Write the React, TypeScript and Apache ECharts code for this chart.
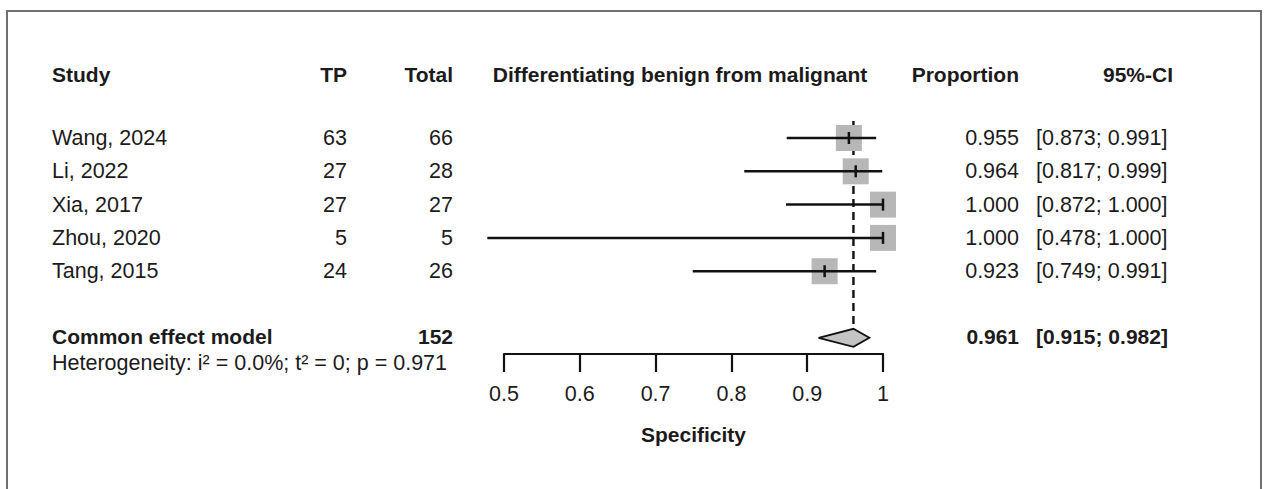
import React, { useEffect, useRef } from "react";
import * as echarts from "echarts";

const studies = ["Wang, 2024", "Li, 2022", "Xia, 2017", "Zhou, 2020", "Tang, 2015"];
const tp = [63, 27, 27, 5, 24];
const total = [66, 28, 27, 5, 26];
const proportion = [0.955, 0.964, 1.0, 1.0, 0.923];
const ciLower = [0.873, 0.817, 0.872, 0.478, 0.749];
const ciUpper = [0.991, 0.999, 1.0, 1.0, 0.991];
const pooledLabel = "Common effect model";
const pooledTotal = 152;
const pooled = 0.961;
const pooledLower = 0.915;
const pooledUpper = 0.982;
const heterogeneity = "Heterogeneity: i\u00b2 = 0.0%; t\u00b2 = 0; p = 0.971";
const headers = ["Study", "TP", "Total", "Differentiating benign from malignant", "Proportion", "95%-CI"];
const xTitle = "Specificity";

const FONT = '"Liberation Sans", Arial, sans-serif';
const TEXT = "#1c1a1b";
const REG = 21.5;
const BOLD = 21;

// column layout
const colStudy = { x: 52, align: "left" };
const colTP = { x: 347, align: "right" };
const colTotal = { x: 453, align: "right" };
const colLabel = { x: 680, align: "center" };
const colProp = { x: 1019, align: "right" };
const colCI = { x: 1036, align: "left" };
const colCIHead = { x: 1173, align: "right" };

const fmt3 = (v: number) => v.toFixed(3);

type Cell = { row: number; col: { x: number; align: string }; text: string; bold: boolean };

function buildCells(): Cell[] {
  const cells: Cell[] = [];
  const headerCols = [colStudy, colTP, colTotal, colLabel, colProp, colCIHead];
  headers.forEach((h, i) => cells.push({ row: -1.9, col: headerCols[i], text: h, bold: true }));
  studies.forEach((s, i) => {
    cells.push({ row: i, col: colStudy, text: s, bold: false });
    cells.push({ row: i, col: colTP, text: String(tp[i]), bold: false });
    cells.push({ row: i, col: colTotal, text: String(total[i]), bold: false });
    cells.push({ row: i, col: colProp, text: fmt3(proportion[i]), bold: false });
    cells.push({ row: i, col: colCI, text: `[${fmt3(ciLower[i])}; ${fmt3(ciUpper[i])}]`, bold: false });
  });
  const pr = studies.length + 1;
  cells.push({ row: pr - 0.05, col: colStudy, text: pooledLabel, bold: true });
  cells.push({ row: pr - 0.05, col: colTotal, text: String(pooledTotal), bold: true });
  cells.push({ row: pr - 0.05, col: colProp, text: fmt3(pooled), bold: true });
  cells.push({ row: pr - 0.05, col: colCI, text: `[${fmt3(pooledLower)}; ${fmt3(pooledUpper)}]`, bold: true });
  cells.push({ row: pr + 0.75, col: colStudy, text: heterogeneity, bold: false });
  return cells;
}

export default function App() {
  const ref = useRef<HTMLDivElement>(null);
  useEffect(() => {
    if (!ref.current) return;
    const chart = echarts.init(ref.current, undefined, { renderer: "svg" });
    const cells = buildCells();
    const pooledRow = studies.length + 1;

    const option: any = {
      animation: false,
      backgroundColor: "#ffffff",
      grid: { left: 504, right: 381, top: 38.1, bottom: 135 },
      xAxis: {
        type: "value",
        position: "bottom",
        min: 0.5,
        max: 1,
        interval: 0.1,
        splitLine: { show: false },
        axisLine: { show: true, onZero: false, lineStyle: { color: "#111", width: 2.2 } },
        axisTick: { show: true, length: 18, lineStyle: { color: "#111", width: 2.2 } },
        axisLabel: {
          fontSize: REG,
          color: TEXT,
          fontFamily: FONT,
          margin: 29,
          formatter: (v: number) => String(Math.round(v * 10) / 10),
        },
        name: xTitle,
        nameLocation: "middle",
        nameGap: 70,
        nameTextStyle: { fontSize: BOLD, fontWeight: "bold", color: TEXT, fontFamily: FONT },
      },
      yAxis: { type: "value", inverse: true, min: -3, max: 6.486, show: false },
      graphic: [
        {
          type: "rect",
          shape: { x: 7, y: 11, width: 1254, height: 520 },
          style: { fill: "none", stroke: "#707070", lineWidth: 2 },
          silent: true,
        },
      ],
      series: [
        {
          type: "custom",
          name: "ref",
          clip: false,
          data: [[pooled, 0, pooledRow]],
          renderItem: (_p: any, api: any) => {
            const x = api.coord([api.value(0), api.value(1)])[0];
            const y1 = api.coord([api.value(0), api.value(1)])[1] - 17;
            const y2 = api.coord([api.value(0), api.value(2)])[1] - 10;
            return {
              type: "line",
              shape: { x1: x, y1, x2: x, y2 },
              style: { stroke: "#111", lineWidth: 2.4, lineDash: [8, 5] },
            };
          },
        },
        {
          type: "custom",
          name: "studies",
          clip: false,
          data: studies.map((_, i) => [proportion[i], ciLower[i], ciUpper[i], i]),
          renderItem: (_p: any, api: any) => {
            const row = api.value(3);
            const [xe, y] = api.coord([api.value(0), row]);
            const xl = api.coord([api.value(1), row])[0];
            const xh = api.coord([api.value(2), row])[0];
            const s = 26;
            return {
              type: "group",
              children: [
                { type: "rect", shape: { x: xe - s / 2, y: y - s / 2, width: s, height: s }, style: { fill: "#b7b7b7" } },
                { type: "line", shape: { x1: xl, y1: y, x2: xh, y2: y }, style: { stroke: "#111", lineWidth: 2.5 } },
                { type: "line", shape: { x1: xe, y1: y - 6, x2: xe, y2: y + 6 }, style: { stroke: "#111", lineWidth: 2.5 } },
              ],
            };
          },
        },
        {
          type: "custom",
          name: "pooled",
          clip: false,
          data: [[pooled, pooledLower, pooledUpper, pooledRow]],
          renderItem: (_p: any, api: any) => {
            const row = api.value(3);
            const [xe, y] = api.coord([api.value(0), row]);
            const xl = api.coord([api.value(1), row])[0];
            const xh = api.coord([api.value(2), row])[0];
            const h = 9;
            return {
              type: "polygon",
              shape: { points: [[xl, y], [xe, y - h], [xh, y], [xe, y + h]] },
              style: { fill: "#c4c4c4", stroke: "#111", lineWidth: 1.8 },
            };
          },
        },
        {
          type: "custom",
          name: "table",
          clip: false,
          data: cells.map((c) => [0.5, c.row]),
          renderItem: (p: any, api: any) => {
            const c = cells[p.dataIndex];
            const y = api.coord([0.5, api.value(1)])[1];
            return {
              type: "text",
              x: c.col.x,
              y,
              style: {
                text: c.text,
                fill: TEXT,
                fontSize: c.bold ? BOLD : REG,
                fontWeight: c.bold ? "bold" : "normal",
                fontFamily: FONT,
                align: c.col.align,
                verticalAlign: "middle",
              },
            };
          },
        },
      ],
    };
    chart.setOption(option);
    return () => chart.dispose();
  }, []);
  return (
    <div
      ref={ref}
      style={{ position: "fixed", left: 0, top: 0, width: 1264, height: 489, background: "#fff" }}
    />
  );
}
